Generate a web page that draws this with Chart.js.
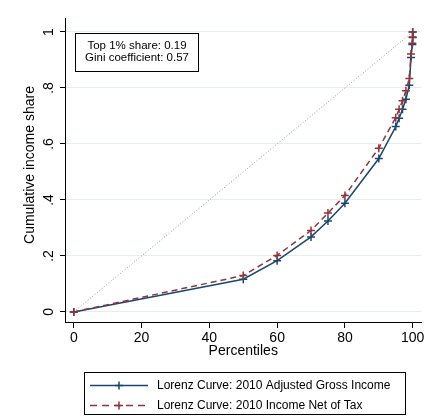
<!DOCTYPE html>
<html>
<head>
<meta charset="utf-8">
<script src="https://cdn.jsdelivr.net/npm/chart.js@4/dist/chart.umd.min.js"></script>
<style>
  html, body { margin: 0; padding: 0; background: #ffffff; }
  #wrap { width: 427px; height: 418px; position: relative; }
</style>
</head>
<body>
<div id="wrap"><canvas id="c"></canvas></div>
<script>
// Cumulative population share (percentile) and cumulative income share
const percentiles = [0, 50, 60, 70, 75, 80, 90, 95, 96, 97, 98, 99, 99.5, 99.9, 99.99, 100];
const agiShare    = [0, 0.117, 0.183, 0.268, 0.325, 0.388, 0.548, 0.662, 0.692, 0.724, 0.760, 0.810, 0.909, 0.955, 0.980, 1];
const netShare    = [0, 0.130, 0.202, 0.291, 0.353, 0.416, 0.585, 0.694, 0.724, 0.754, 0.790, 0.834, 0.921, 0.960, 0.982, 1];
const equalityX   = [0, 100];
const equalityY   = [0, 1];

const xTicks = [0, 20, 40, 60, 80, 100];
const yTicks = [0, 0.2, 0.4, 0.6, 0.8, 1];
const yTickLabels = ['0', '.2', '.4', '.6', '.8', '1'];

const xTitle = 'Percentiles';
const yTitle = 'Cumulative income share';
const seriesNames = ['Lorenz Curve: 2010 Adjusted Gross Income', 'Lorenz Curve: 2010 Income Net of Tax'];
const noteLines = ['Top 1% share: 0.19', 'Gini coefficient: 0.57'];

const BLUE = '#1a476f';
const RED = '#90353b';
const FONT = '"Liberation Sans", Arial, sans-serif';

const toPoints = (xs, ys) => xs.map((x, i) => ({ x: x, y: ys[i] }));

// Rotated y tick labels, y title, note box and legend box
const decor = {
  id: 'decor',
  afterDraw(chart) {
    const ctx = chart.ctx;
    const ys = chart.scales.y;
    ctx.save();
    ctx.fillStyle = '#000';

    // y tick labels, reading upward
    ctx.font = '14px ' + FONT;
    ctx.textAlign = 'center';
    ctx.textBaseline = 'alphabetic';
    yTicks.forEach((v, i) => {
      const py = ys.getPixelForValue(v);
      ctx.save();
      ctx.translate(53, py);
      ctx.rotate(-Math.PI / 2);
      ctx.fillText(yTickLabels[i], 0, 0);
      ctx.restore();
    });

    // y axis title
    ctx.save();
    ctx.translate(30, 165);
    ctx.rotate(-Math.PI / 2);
    ctx.textBaseline = 'middle';
    ctx.fillText(yTitle, 0, 0);
    ctx.restore();

    // note box
    ctx.fillStyle = '#fff';
    ctx.fillRect(75.5, 33.5, 123, 38);
    ctx.strokeStyle = '#000';
    ctx.lineWidth = 1;
    ctx.strokeRect(75.5, 33.5, 123, 38);
    ctx.fillStyle = '#000';
    ctx.font = '11.5px ' + FONT;
    ctx.textAlign = 'center';
    ctx.textBaseline = 'middle';
    ctx.fillText(noteLines[0], 137, 46);
    ctx.fillText(noteLines[1], 137, 58);

    // legend box
    ctx.strokeRect(84.5, 372.5, 321, 42);
    const rows = [
      { color: BLUE, dash: [], y: 385.5, label: seriesNames[0] },
      { color: RED, dash: [7, 5], y: 405.5, label: seriesNames[1] }
    ];
    rows.forEach(r => {
      ctx.save();
      ctx.strokeStyle = r.color;
      ctx.lineWidth = 1.5;
      ctx.setLineDash(r.dash);
      ctx.beginPath();
      ctx.moveTo(90, r.y);
      ctx.lineTo(148, r.y);
      ctx.stroke();
      ctx.setLineDash([]);
      Chart.helpers.drawPoint(ctx, { pointStyle: 'cross', radius: 4, borderWidth: 1.5 }, 119, r.y);
      ctx.restore();
      ctx.fillStyle = '#000';
      ctx.font = '12px ' + FONT;
      ctx.textAlign = 'left';
      ctx.textBaseline = 'middle';
      ctx.fillText(r.label, 157, r.y);
    });
    ctx.restore();
  }
};

new Chart(document.getElementById('c'), {
  type: 'line',
  data: {
    datasets: [
      {
        label: 'Equality',
        data: toPoints(equalityX, equalityY),
        borderColor: '#9a9a9a',
        borderWidth: 1,
        borderDash: [1, 2],
        pointRadius: 0,
        fill: false,
        order: 3
      },
      {
        label: seriesNames[0],
        data: toPoints(percentiles, agiShare),
        borderColor: BLUE,
        backgroundColor: BLUE,
        borderWidth: 1.5,
        pointStyle: 'cross',
        pointRadius: 4,
        pointBorderWidth: 1.5,
        pointBorderColor: BLUE,
        fill: false,
        tension: 0,
        order: 2
      },
      {
        label: seriesNames[1],
        data: toPoints(percentiles, netShare),
        borderColor: RED,
        backgroundColor: RED,
        borderWidth: 1.5,
        borderDash: [6, 4],
        pointStyle: 'cross',
        pointRadius: 4,
        pointBorderWidth: 1.5,
        pointBorderColor: RED,
        fill: false,
        tension: 0,
        order: 1
      }
    ]
  },
  options: {
    responsive: true,
    maintainAspectRatio: false,
    animation: false,
    layout: { padding: { left: 0, right: 3, top: 18, bottom: 58 } },
    plugins: {
      legend: { display: false },
      tooltip: { enabled: false }
    },
    scales: {
      x: {
        type: 'linear',
        min: -2.6,
        max: 102.6,
        afterBuildTicks: s => { s.ticks = xTicks.map(v => ({ value: v })); },
        afterFit: s => { s.height = 38; },
        grid: { drawOnChartArea: false, drawTicks: true, tickLength: 6, tickColor: '#000', tickWidth: 1 },
        border: { display: true, color: '#000', width: 1 },
        ticks: { color: '#000', font: { family: FONT, size: 14 }, padding: 2, maxRotation: 0, autoSkip: false },
        title: { display: true, text: xTitle, color: '#000', font: { family: FONT, size: 14 }, padding: 0 }
      },
      y: {
        type: 'linear',
        min: -0.036,
        max: 1.05,
        afterBuildTicks: s => { s.ticks = yTicks.map(v => ({ value: v })); },
        afterFit: s => { s.width = 65; },
        grid: { color: '#e4eef1', lineWidth: 1, drawTicks: true, tickLength: 5, tickColor: '#000', tickWidth: 1 },
        border: { display: true, color: '#000', width: 1 },
        ticks: { display: false }
      }
    }
  },
  plugins: [decor]
});
</script>
</body>
</html>
